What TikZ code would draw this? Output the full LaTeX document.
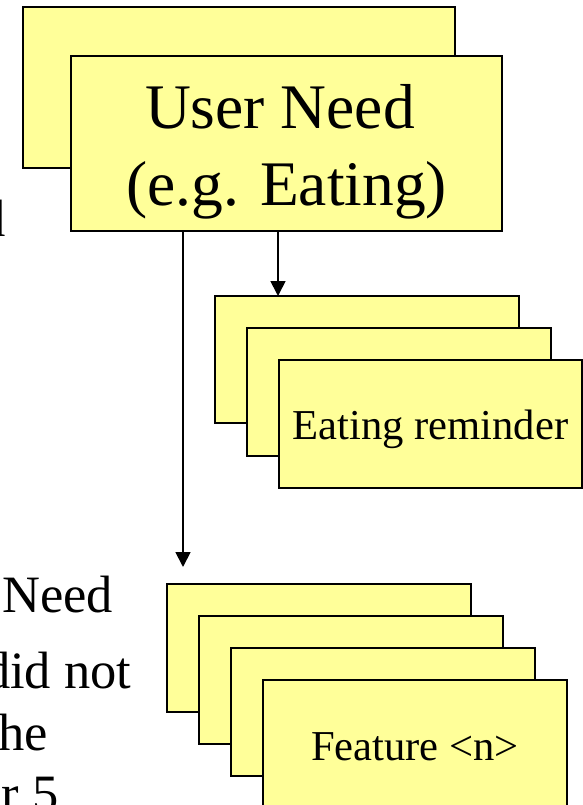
\documentclass[tikz,border=0pt]{standalone}
\usepackage{fontspec}
\setmainfont{Liberation Serif}
\usetikzlibrary{arrows.meta}
\definecolor{noteyellow}{HTML}{FFFF99}
\tikzset{
  card/.style={draw=black, line width=2pt, fill=noteyellow, anchor=north west,
    inner sep=0pt, outer sep=0pt},
  link/.style={line width=1.8pt, -{Triangle[width=15pt,length=15pt]}},
  bigtext/.style={inner sep=0pt, anchor=base, font=\fontsize{63.5}{76}\selectfont},
  cardtext/.style={inner sep=0pt, anchor=base, font=\fontsize{42.6}{50}\selectfont},
  sidetext/.style={inner sep=0pt, font=\fontsize{52.5}{62}\selectfont},
}
\begin{document}
\begin{tikzpicture}[x=1pt, y=-1pt]
\useasboundingbox[fill=white] (0,0) rectangle (583,805);

% side text, running off the left edge
\node[sidetext, anchor=base east] (t1) at (6,236) {d};
\node[sidetext, anchor=base west] (t2) at (2,612) {Need};
\node[sidetext, anchor=base east] (t3) at (131.5,688) {did not};
\node[sidetext, anchor=base east] (t4) at (48,750) {he};
\node[sidetext, anchor=base east] (t5) at (59,811) {er 5};

% user need stack
\node[card, minimum width=432pt, minimum height=161pt] (needback) at (23,7) {};
\node[card, minimum width=431pt, minimum height=175pt] (need) at (71,56) {};
\node[bigtext] (needl1) at (280,129) {User Need};
\node[bigtext] (needl2) at (286.5,205) {(e.g. Eating)};

% eating reminder stack
\node[card, minimum width=304pt, minimum height=127pt] (eat1) at (215,296) {};
\node[card, minimum width=304pt, minimum height=128pt] (eat2) at (247,328) {};
\node[card, minimum width=303pt, minimum height=128pt] (eat3) at (279,360) {};
\node[cardtext] (eatl) at (430.5,439) {Eating reminder};

% feature stack
\node[card, minimum width=304pt, minimum height=128pt] (feat1) at (167,584) {};
\node[card, minimum width=304pt, minimum height=128pt] (feat2) at (199,616) {};
\node[card, minimum width=304pt, minimum height=128pt] (feat3) at (231,648) {};
\node[card, minimum width=304pt, minimum height=128pt] (feat4) at (263,680) {};
\node[cardtext] (featl) at (415,760) {Feature <n>};

% connectors
\coordinate (feattip) at (183,567);
\draw[link] ([xshift=207pt]need.south west) -- ([xshift=63pt]eat1.north west);
\draw[link] ([xshift=112pt]need.south west) -- (feattip);
\end{tikzpicture}
\end{document}
